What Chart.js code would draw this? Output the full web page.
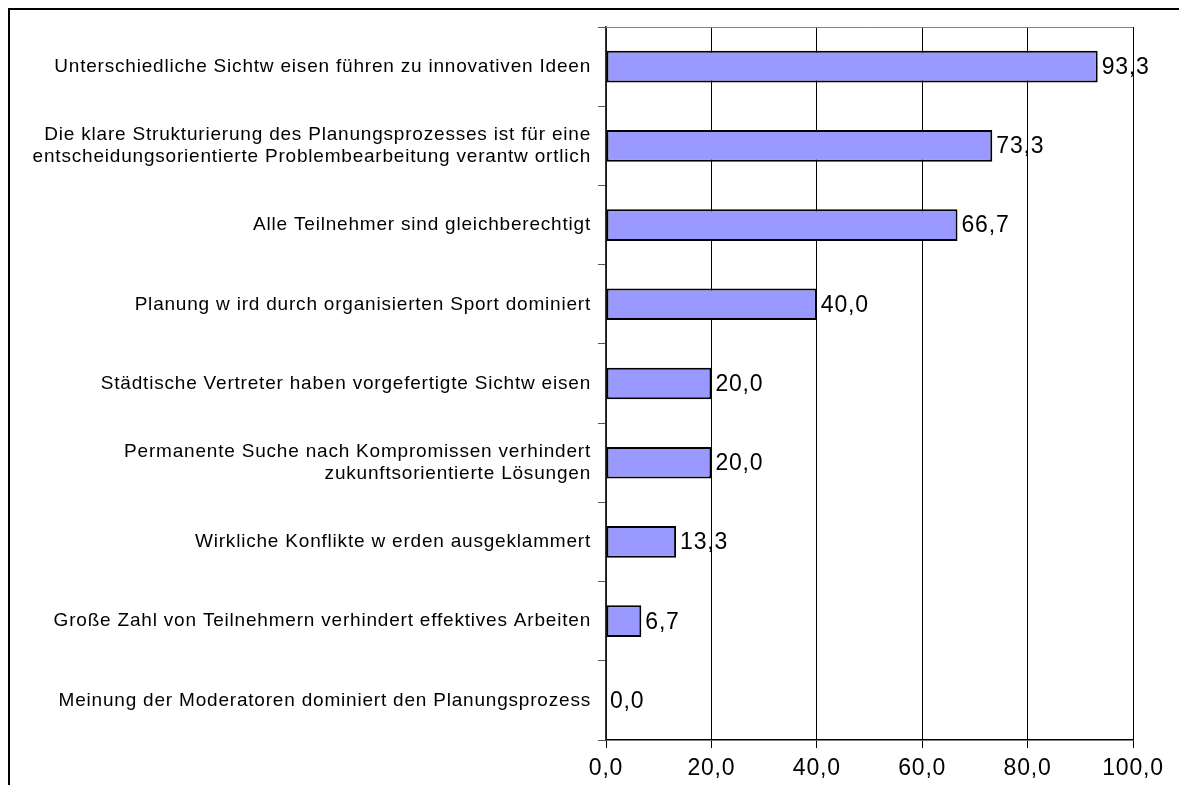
<!DOCTYPE html>
<html>
<head>
<meta charset="utf-8">
<script src="https://cdn.jsdelivr.net/npm/chart.js@4.4.1/dist/chart.umd.min.js"></script>
<style>
  html, body { margin: 0; padding: 0; background: #fff; overflow: hidden; }
  #frame { position: absolute; left: 8px; top: 8px; width: 1200px; height: 800px;
           border-left: 2px solid #000; border-top: 2px solid #000; }
  #wrap { position: absolute; left: 0; top: 0; width: 1179px; height: 785px; }
</style>
</head>
<body>
<div id="frame"></div>
<div id="wrap"><canvas id="chart"></canvas></div>
<script>
// Kategorien (Zeilenumbrüche wie im Original)
const categories = [
  ['Unterschiedliche Sichtw eisen führen zu innovativen Ideen'],
  ['Die klare Strukturierung des Planungsprozesses ist für eine', 'entscheidungsorientierte Problembearbeitung verantw ortlich'],
  ['Alle Teilnehmer sind gleichberechtigt'],
  ['Planung w ird durch organisierten Sport dominiert'],
  ['Städtische Vertreter haben vorgefertigte Sichtw eisen'],
  ['Permanente Suche nach Kompromissen verhindert', 'zukunftsorientierte Lösungen'],
  ['Wirkliche Konflikte w erden ausgeklammert'],
  ['Große Zahl von Teilnehmern verhindert effektives Arbeiten'],
  ['Meinung der Moderatoren dominiert den Planungsprozess']
];
const values = [93.3, 73.3, 66.7, 40.0, 20.0, 20.0, 13.3, 6.7, 0.0];
const xTicks = [0, 20, 40, 60, 80, 100];

const fmt = v => Number(v).toFixed(1).replace('.', ',');
const FONT = '"Liberation Sans", Arial, sans-serif';
const LS = '0.8px';

// etwas Zeichenabstand wie im Original
const spacing = {
  id: 'spacing',
  beforeUpdate(chart) { chart.ctx.letterSpacing = LS; },
  beforeLayout(chart) { chart.ctx.letterSpacing = LS; },
  beforeDraw(chart) { chart.ctx.letterSpacing = LS; }
};

// Werte rechts neben den Balken + obere Rahmenlinie
const valueLabels = {
  id: 'valueLabels',
  afterDatasetsDraw(chart) {
    const ctx = chart.ctx;
    const area = chart.chartArea;
    ctx.save();
    ctx.strokeStyle = '#808080';
    ctx.lineWidth = 1;
    ctx.beginPath();
    ctx.moveTo(area.left, area.top + 0.5);
    ctx.lineTo(area.right, area.top + 0.5);
    ctx.stroke();
    ctx.fillStyle = '#000';
    ctx.font = '23px ' + FONT;
    ctx.textBaseline = 'middle';
    ctx.textAlign = 'left';
    chart.getDatasetMeta(0).data.forEach((bar, i) => {
      ctx.fillText(fmt(values[i]), bar.x + 4, bar.y + 1);
    });
    ctx.restore();
  }
};

new Chart(document.getElementById('chart'), {
  type: 'bar',
  data: {
    labels: categories,
    datasets: [{
      data: values,
      backgroundColor: '#9999FF',
      borderColor: '#000000',
      borderWidth: 2,
      borderSkipped: false,
      categoryPercentage: 0.4,
      barPercentage: 1.0
    }]
  },
  options: {
    indexAxis: 'y',
    responsive: true,
    maintainAspectRatio: false,
    animation: false,
    layout: { padding: { left: 0, top: 27, right: 46, bottom: 0 } },
    plugins: {
      legend: { display: false },
      tooltip: { enabled: false }
    },
    scales: {
      x: {
        min: 0,
        max: 100,
        afterBuildTicks: s => { s.ticks = xTicks.map(v => ({ value: v })); },
        afterFit: s => { s.height = 45; },
        grid: { color: '#000', lineWidth: 1, tickLength: 8, drawTicks: true },
        border: { display: true, color: '#000', width: 1.5 },
        ticks: {
          color: '#000',
          padding: 7,
          font: { family: FONT, size: 23 },
          callback: v => fmt(v)
        }
      },
      y: {
        afterFit: s => { s.width = 606; },
        grid: { drawOnChartArea: false, drawTicks: true, tickLength: 8, color: '#555', offset: true },
        border: { display: true, color: '#333', width: 1.5 },
        ticks: {
          color: '#000',
          padding: 7,
          font: { family: FONT, size: 19, lineHeight: 1.16 }
        }
      }
    }
  },
  plugins: [spacing, valueLabels]
});
</script>
</body>
</html>
